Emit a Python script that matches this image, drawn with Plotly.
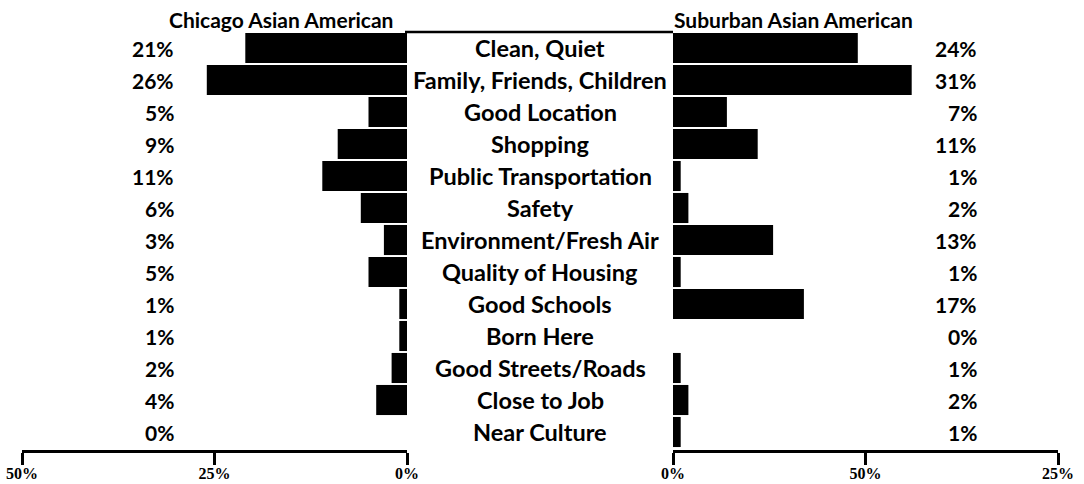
import plotly.graph_objects as go

categories = ["Clean, Quiet", "Family, Friends, Children", "Good Location", "Shopping",
              "Public Transportation", "Safety", "Environment/Fresh Air", "Quality of Housing",
              "Good Schools", "Born Here", "Good Streets/Roads", "Close to Job", "Near Culture"]
chicago = [21, 26, 5, 9, 11, 6, 3, 5, 1, 1, 2, 4, 0]
suburban = [24, 31, 7, 11, 1, 2, 13, 1, 17, 0, 1, 2, 1]
left_tick_vals = [50, 25, 0]
left_tick_text = ["50%", "25%", "0%"]
right_tick_vals = [0, 25, 50]
right_tick_text = ["0%", "50%", "25%"]
left_title = "Chicago Asian American"
right_title = "Suburban Asian American"

W, H = 1084, 484


def px(x):
    return x / W


def py(y):
    return 1 - y / H


LABEL_FONT = dict(family="Lato, 'Open Sans', sans-serif", size=23.5, color="black", weight="bold")
PCT_FONT = dict(family="Lato, sans-serif", size=21, color="black", weight="bold")
TITLE_FONT = dict(family="Lato, sans-serif", size=21, color="black", weight="bold")
TICK_FONT = dict(family="'Liberation Serif', serif", size=16, color="black", weight="bold")

fig = go.Figure()
fig.add_trace(go.Bar(y=categories, x=chicago, orientation="h", xaxis="x", yaxis="y",
                     marker=dict(color="black", line=dict(width=0)), showlegend=False,
                     hoverinfo="x+y"))
fig.add_trace(go.Bar(y=categories, x=suburban, orientation="h", xaxis="x2", yaxis="y",
                     marker=dict(color="black", line=dict(width=0)), showlegend=False,
                     hoverinfo="x+y"))

annotations = []
for c, l, r in zip(categories, chicago, suburban):
    annotations.append(dict(x=px(540), y=c, xref="paper", yref="y", text=c, showarrow=False,
                            xanchor="center", yanchor="middle", font=LABEL_FONT))
    annotations.append(dict(x=px(176), y=c, xref="paper", yref="y", text=f"{l}%", showarrow=False,
                            xanchor="right", yanchor="middle", font=PCT_FONT))
    annotations.append(dict(x=px(979), y=c, xref="paper", yref="y", text=f"{r}%", showarrow=False,
                            xanchor="right", yanchor="middle", font=PCT_FONT))
annotations.append(dict(x=px(281), y=py(19), xref="paper", yref="paper", text=left_title,
                        showarrow=False, xanchor="center", yanchor="middle", font=TITLE_FONT))
annotations.append(dict(x=px(672), y=py(19), xref="paper", yref="paper", text=right_title,
                        showarrow=False, xanchor="left", yanchor="middle", font=TITLE_FONT))

axis_common = dict(anchor="free", position=py(451), ticks="outside", ticklen=12, tickwidth=2.5,
                   tickcolor="black", showline=True, linecolor="black", linewidth=2.5,
                   showgrid=False, zeroline=False, tickfont=TICK_FONT, fixedrange=True,
                   automargin=False, ticklabelstandoff=-5, ticklabeloverflow="allow")

fig.update_layout(
    template="none",
    width=W, height=H, margin=dict(l=0, r=0, t=0, b=0, pad=0, autoexpand=False),
    paper_bgcolor="white", plot_bgcolor="white",
    bargap=0.06,
    xaxis=dict(domain=[px(22), px(407)], range=[50, 0], tickvals=left_tick_vals,
               ticktext=left_tick_text, **axis_common),
    xaxis2=dict(domain=[px(673), px(1058)], range=[0, 50], tickvals=right_tick_vals,
                ticktext=right_tick_text, **axis_common),
    yaxis=dict(domain=[py(448), py(32)], autorange="reversed", visible=False, fixedrange=True,
               automargin=False),
    annotations=annotations,
    shapes=[dict(type="line", xref="paper", yref="paper", x0=px(405), x1=px(673),
                 y0=py(32), y1=py(32), line=dict(color="black", width=2.5))],
)

fig.write_html("out.html", config={"displayModeBar": False},
               post_script="document.body.style.margin='0';")
